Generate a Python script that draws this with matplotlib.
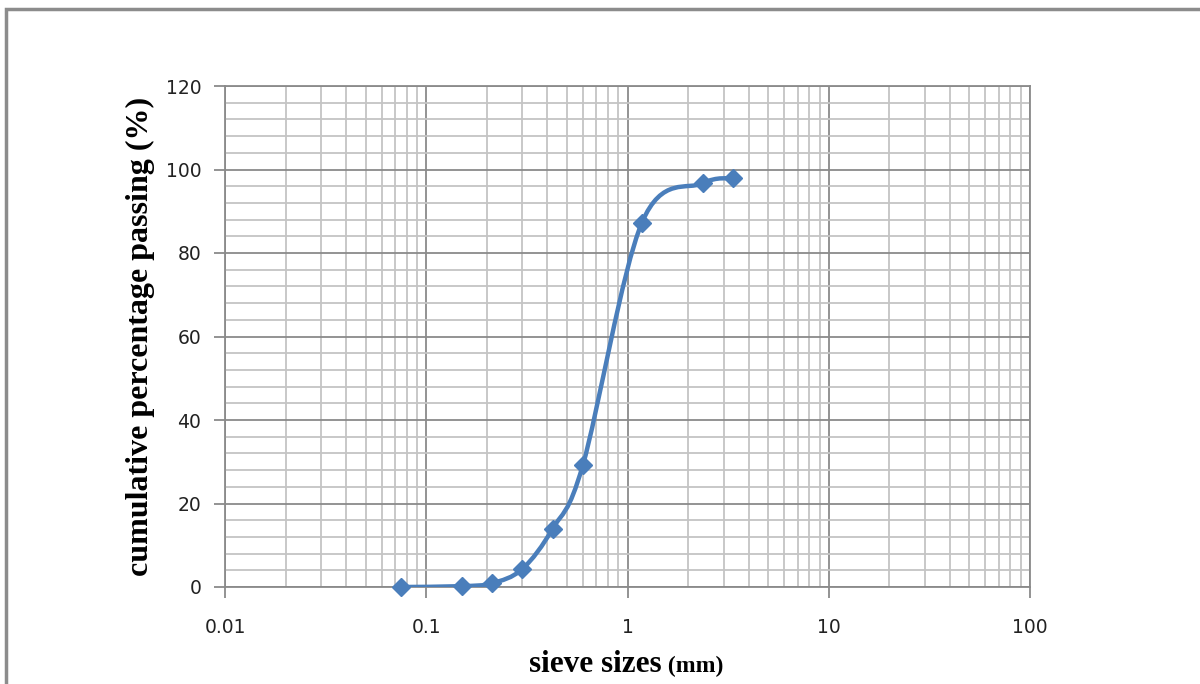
"""Sieve analysis grading curve."""

import matplotlib

matplotlib.use("Agg")
import matplotlib.pyplot as plt
import numpy as np
from matplotlib.patches import PathPatch, Rectangle
from matplotlib.path import Path
from matplotlib.ticker import FixedLocator, LogLocator, MultipleLocator, NullFormatter

sieve_mm = [0.075, 0.15, 0.212, 0.3, 0.425, 0.6, 1.18, 2.36, 3.35]
passing_pct = [0.0, 0.2, 0.9, 4.3, 14.0, 29.2, 87.3, 96.7, 97.9]

x_ticks = [0.01, 0.1, 1, 10, 100]
x_tick_labels = ["0.01", "0.1", "1", "10", "100"]
y_ticks = [0, 20, 40, 60, 80, 100, 120]

BLUE = "#4a7ebb"
MAJOR = "#8a8a8a"
MINOR = "#c4c4c4"


def smooth_path(xs, ys):
    # Excel-style smoothed line: cubic Bezier with control points from neighbours
    lx = np.log10(xs)
    ys = np.asarray(ys, dtype=float)
    n = len(lx)
    verts = [(lx[0], ys[0])]
    codes = [Path.MOVETO]
    for i in range(n - 1):
        p0 = np.array([lx[max(i - 1, 0)], ys[max(i - 1, 0)]])
        p1 = np.array([lx[i], ys[i]])
        p2 = np.array([lx[i + 1], ys[i + 1]])
        p3 = np.array([lx[min(i + 2, n - 1)], ys[min(i + 2, n - 1)]])
        c1 = p1 + (p2 - p0) / 6.0
        c2 = p2 - (p3 - p1) / 6.0
        verts += [tuple(c1), tuple(c2), tuple(p2)]
        codes += [Path.CURVE4] * 3
    verts = [(10 ** vx, vy) for vx, vy in verts]
    return Path(verts, codes)


fig = plt.figure(figsize=(12, 6.84), dpi=100)
ax = fig.add_axes([225 / 1200, 1 - 587 / 684, 805 / 1200, 501 / 684])

ax.set_xscale("log")
ax.set_xlim(0.01, 100)
ax.set_ylim(0, 120)

ax.xaxis.set_major_locator(FixedLocator(x_ticks))
ax.set_xticklabels(x_tick_labels)
ax.xaxis.set_minor_locator(LogLocator(base=10, subs=np.arange(2, 10)))
ax.xaxis.set_minor_formatter(NullFormatter())
ax.yaxis.set_major_locator(FixedLocator(y_ticks))
ax.yaxis.set_minor_locator(MultipleLocator(4))

ax.grid(which="minor", color=MINOR, lw=1.3, zorder=0)
ax.grid(which="major", color=MAJOR, lw=1.3, zorder=0)
ax.set_axisbelow(True)

for side in ["left", "bottom", "right", "top"]:
    ax.spines[side].set_color(MAJOR)
    ax.spines[side].set_linewidth(1.3)

ax.tick_params(which="major", direction="out", length=8, width=1.3, color=MAJOR,
               labelsize=13.5, labelcolor="#222222")
ax.tick_params(axis="x", pad=14)
ax.tick_params(axis="y", pad=9)
ax.tick_params(which="minor", length=0)
for lab in ax.get_xticklabels() + ax.get_yticklabels():
    lab.set_family("DejaVu Sans")

ax.add_patch(PathPatch(smooth_path(sieve_mm, passing_pct), fc="none", ec=BLUE,
                       lw=3.2, zorder=3, capstyle="round"))
ax.plot(sieve_mm, passing_pct, ls="none", marker="D", ms=9.5, color=BLUE, zorder=4,
        clip_on=False)

fig.text(140 / 1200, 1 - 336 / 684, "cumulative percentage passing (%)", rotation=90,
         ha="center", va="center", family="Liberation Serif", weight="bold",
         fontsize=23)
fig.text(662 / 1200, 1 - 664 / 684, "sieve sizes", ha="right", va="center",
         family="Liberation Serif", weight="bold", fontsize=22.5)
fig.text(662 / 1200, 1 - 666 / 684, " (mm)", ha="left", va="center",
         family="Liberation Serif", weight="bold", fontsize=17)

fig.patches.append(Rectangle((6 / 1200, -0.1), 1.2, 1 - 9 / 684 + 0.1,
                             transform=fig.transFigure, fill=False, ec="#8c8c8c",
                             lw=2.5))

fig.savefig("out.png", dpi=100)
